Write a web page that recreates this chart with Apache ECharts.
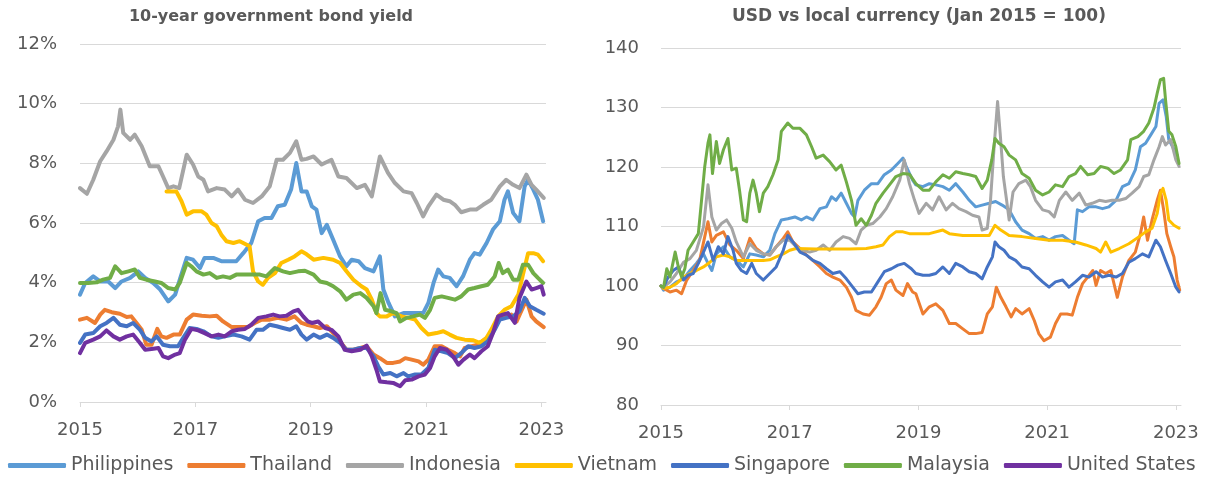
<!DOCTYPE html>
<html><head><meta charset="utf-8">
<script src="https://cdn.jsdelivr.net/npm/echarts@6/dist/echarts.min.js"></script>
<style>html,body{margin:0;padding:0;background:#fff}#c{width:1205px;height:480px}</style>
</head><body><div id="c"></div>
<script>
// ---- names, colours, ticks ----
const seriesNames = ['Philippines','Thailand','Indonesia','Vietnam','Singapore','Malaysia','United States'];
const seriesColors = ['#5B9BD5','#ED7D31','#A5A5A5','#FFC000','#4472C4','#70AD47','#7030A0'];
const yearTicks = [2015, 2017, 2019, 2021, 2023];
const titleLeft = '10-year government bond yield';
const titleRight = 'USD vs local currency (Jan 2015 = 100)';

// ---- 10-year government bond yield (%) : [decimal year, value] ----
const yldPhilippines = [[2015.00,3.60],[2015.09,3.99],[2015.23,4.21],[2015.35,4.04],[2015.49,4.04],[2015.61,3.82],[2015.72,4.04],[2015.87,4.16],[2016.01,4.38],[2016.13,4.16],[2016.27,3.99],[2016.39,3.77],[2016.53,3.37],[2016.65,3.60],[2016.73,4.10],[2016.85,4.83],[2016.96,4.77],[2017.08,4.49],[2017.16,4.83],[2017.31,4.83],[2017.45,4.72],[2017.60,4.72],[2017.71,4.72],[2017.83,4.99],[2017.97,5.33],[2018.09,6.06],[2018.20,6.17],[2018.32,6.17],[2018.43,6.56],[2018.55,6.61],[2018.66,7.12],[2018.75,8.01],[2018.84,7.06],[2018.93,7.06],[2019.02,6.56],[2019.10,6.45],[2019.19,5.66],[2019.28,5.94],[2019.39,5.44],[2019.51,4.88],[2019.62,4.55],[2019.71,4.77],[2019.83,4.72],[2019.94,4.49],[2020.09,4.38],[2020.20,4.88],[2020.26,3.77],[2020.35,3.32],[2020.46,2.87],[2020.61,2.98],[2020.78,2.98],[2020.95,2.98],[2021.04,3.32],[2021.13,3.99],[2021.21,4.44],[2021.30,4.21],[2021.41,4.16],[2021.53,3.88],[2021.64,4.21],[2021.76,4.77],[2021.84,4.99],[2021.93,4.94],[2022.05,5.33],[2022.16,5.78],[2022.28,6.06],[2022.36,6.78],[2022.42,7.06],[2022.51,6.34],[2022.62,6.06],[2022.71,7.23],[2022.77,7.45],[2022.86,7.12],[2022.94,6.78],[2023.03,6.06]];
const yldThailand = [[2015.00,2.76],[2015.12,2.82],[2015.26,2.65],[2015.35,2.93],[2015.43,3.09],[2015.55,3.01],[2015.69,2.96],[2015.81,2.85],[2015.89,2.87],[2015.98,2.65],[2016.07,2.42],[2016.15,1.92],[2016.24,1.92],[2016.34,2.45],[2016.41,2.20],[2016.50,2.15],[2016.62,2.26],[2016.73,2.26],[2016.85,2.76],[2016.96,2.93],[2017.11,2.89],[2017.25,2.87],[2017.37,2.89],[2017.48,2.70],[2017.63,2.51],[2017.77,2.51],[2017.91,2.51],[2018.03,2.65],[2018.15,2.76],[2018.29,2.76],[2018.43,2.82],[2018.58,2.76],[2018.72,2.87],[2018.84,2.65],[2018.93,2.59],[2019.05,2.54],[2019.16,2.48],[2019.28,2.54],[2019.39,2.31],[2019.51,2.03],[2019.62,1.75],[2019.74,1.75],[2019.86,1.81],[2019.97,1.87],[2020.09,1.59],[2020.20,1.47],[2020.32,1.31],[2020.43,1.31],[2020.55,1.36],[2020.64,1.47],[2020.75,1.42],[2020.87,1.36],[2020.95,1.25],[2021.04,1.42],[2021.15,1.87],[2021.27,1.87],[2021.38,1.75],[2021.50,1.64],[2021.59,1.53],[2021.67,1.81],[2021.79,1.87],[2021.90,1.92],[2022.02,2.09],[2022.13,2.31],[2022.25,2.76],[2022.36,2.87],[2022.48,2.93],[2022.57,2.70],[2022.66,3.09],[2022.74,3.43],[2022.83,2.87],[2022.91,2.70],[2023.04,2.51]];
const yldIndonesia = [[2015.00,7.17],[2015.12,6.98],[2015.23,7.45],[2015.35,8.07],[2015.46,8.40],[2015.58,8.79],[2015.66,9.24],[2015.70,9.80],[2015.75,9.02],[2015.87,8.79],[2015.95,8.96],[2016.07,8.57],[2016.21,7.90],[2016.36,7.90],[2016.44,7.56],[2016.53,7.17],[2016.62,7.23],[2016.72,7.17],[2016.85,8.29],[2016.96,7.96],[2017.05,7.56],[2017.14,7.45],[2017.22,7.06],[2017.37,7.17],[2017.51,7.12],[2017.63,6.89],[2017.74,7.12],[2017.86,6.78],[2018.00,6.67],[2018.15,6.89],[2018.29,7.23],[2018.41,8.12],[2018.52,8.12],[2018.64,8.35],[2018.75,8.74],[2018.84,8.12],[2018.93,8.15],[2019.05,8.23],[2019.19,7.96],[2019.36,8.12],[2019.48,7.56],[2019.62,7.51],[2019.80,7.17],[2019.94,7.28],[2020.06,6.89],[2020.20,8.23],[2020.34,7.68],[2020.46,7.34],[2020.61,7.06],[2020.75,7.00],[2020.84,6.67],[2020.95,6.22],[2021.04,6.56],[2021.18,6.95],[2021.30,6.78],[2021.41,6.73],[2021.50,6.61],[2021.61,6.36],[2021.76,6.45],[2021.87,6.45],[2021.99,6.61],[2022.13,6.78],[2022.28,7.23],[2022.39,7.45],[2022.51,7.28],[2022.62,7.17],[2022.74,7.62],[2022.83,7.28],[2022.91,7.12],[2023.04,6.84]];
const yldVietnam = [[2016.50,7.06],[2016.67,7.06],[2016.76,6.73],[2016.85,6.28],[2016.96,6.39],[2017.11,6.39],[2017.19,6.28],[2017.28,6.00],[2017.37,5.89],[2017.45,5.61],[2017.54,5.39],[2017.66,5.33],[2017.77,5.39],[2017.89,5.27],[2017.94,5.22],[2018.00,4.38],[2018.09,4.04],[2018.17,3.93],[2018.26,4.16],[2018.38,4.32],[2018.49,4.66],[2018.61,4.77],[2018.72,4.88],[2018.84,5.05],[2018.93,4.95],[2019.05,4.77],[2019.22,4.83],[2019.39,4.77],[2019.51,4.66],[2019.62,4.38],[2019.74,4.10],[2019.88,3.88],[2019.97,3.77],[2020.06,3.43],[2020.14,2.98],[2020.20,2.87],[2020.32,2.87],[2020.43,2.98],[2020.58,2.87],[2020.69,2.82],[2020.81,2.76],[2020.92,2.48],[2021.04,2.26],[2021.18,2.31],[2021.30,2.37],[2021.41,2.26],[2021.53,2.15],[2021.67,2.09],[2021.82,2.07],[2021.93,1.98],[2022.05,2.15],[2022.13,2.42],[2022.25,2.87],[2022.36,3.09],[2022.48,3.21],[2022.60,3.60],[2022.68,4.27],[2022.77,4.99],[2022.86,4.99],[2022.94,4.94],[2023.03,4.72]];
const yldSingapore = [[2015.00,1.98],[2015.09,2.26],[2015.23,2.31],[2015.35,2.54],[2015.46,2.65],[2015.58,2.82],[2015.69,2.59],[2015.81,2.54],[2015.92,2.65],[2016.04,2.42],[2016.13,2.15],[2016.24,2.03],[2016.33,2.20],[2016.44,1.92],[2016.56,1.87],[2016.70,1.87],[2016.79,2.15],[2016.90,2.48],[2017.02,2.45],[2017.14,2.37],[2017.28,2.20],[2017.40,2.15],[2017.51,2.20],[2017.66,2.26],[2017.80,2.20],[2017.94,2.09],[2018.06,2.42],[2018.17,2.42],[2018.29,2.59],[2018.41,2.54],[2018.52,2.48],[2018.64,2.42],[2018.75,2.54],[2018.84,2.26],[2018.93,2.09],[2019.05,2.26],[2019.16,2.15],[2019.28,2.26],[2019.39,2.15],[2019.51,1.98],[2019.62,1.75],[2019.74,1.75],[2019.86,1.81],[2019.97,1.81],[2020.09,1.53],[2020.17,1.20],[2020.26,0.92],[2020.38,0.97],[2020.49,0.86],[2020.61,0.97],[2020.69,0.86],[2020.81,0.92],[2020.92,0.92],[2021.04,1.14],[2021.15,1.75],[2021.27,1.70],[2021.38,1.64],[2021.50,1.47],[2021.61,1.64],[2021.73,1.87],[2021.84,1.81],[2021.96,1.87],[2022.07,2.03],[2022.19,2.42],[2022.28,2.76],[2022.39,2.82],[2022.51,2.87],[2022.62,3.04],[2022.71,3.49],[2022.80,3.21],[2022.91,3.09],[2023.04,2.96]];
const yldMalaysia = [[2015.00,3.99],[2015.14,3.99],[2015.29,4.01],[2015.40,4.10],[2015.52,4.16],[2015.61,4.55],[2015.72,4.32],[2015.84,4.38],[2015.95,4.44],[2016.04,4.16],[2016.15,4.10],[2016.30,4.04],[2016.41,3.99],[2016.53,3.82],[2016.65,3.77],[2016.73,3.99],[2016.85,4.66],[2016.93,4.55],[2017.02,4.38],[2017.14,4.27],[2017.25,4.32],[2017.37,4.16],[2017.48,4.21],[2017.60,4.16],[2017.71,4.27],[2017.83,4.27],[2017.97,4.27],[2018.12,4.27],[2018.23,4.21],[2018.38,4.49],[2018.52,4.38],[2018.64,4.32],[2018.78,4.38],[2018.90,4.40],[2019.05,4.27],[2019.16,4.04],[2019.28,3.99],[2019.39,3.88],[2019.51,3.71],[2019.62,3.43],[2019.74,3.60],[2019.86,3.65],[2019.97,3.49],[2020.09,3.21],[2020.14,2.98],[2020.21,3.65],[2020.29,3.09],[2020.40,3.04],[2020.49,2.98],[2020.55,2.70],[2020.66,2.82],[2020.78,2.87],[2020.89,2.93],[2020.98,2.82],[2021.07,3.09],[2021.15,3.49],[2021.27,3.54],[2021.38,3.49],[2021.50,3.43],[2021.61,3.54],[2021.73,3.77],[2021.84,3.82],[2021.96,3.88],[2022.07,3.93],[2022.19,4.21],[2022.26,4.66],[2022.33,4.32],[2022.42,4.44],[2022.51,4.10],[2022.60,4.10],[2022.68,4.60],[2022.77,4.60],[2022.86,4.32],[2022.94,4.16],[2023.03,3.99]];
const yldUnitedStates = [[2015.00,1.64],[2015.09,1.98],[2015.23,2.09],[2015.35,2.20],[2015.46,2.40],[2015.58,2.20],[2015.69,2.09],[2015.81,2.20],[2015.92,2.26],[2016.04,1.98],[2016.13,1.75],[2016.24,1.78],[2016.36,1.81],[2016.44,1.53],[2016.53,1.47],[2016.65,1.59],[2016.73,1.64],[2016.82,2.09],[2016.93,2.45],[2017.05,2.40],[2017.16,2.31],[2017.28,2.20],[2017.40,2.26],[2017.51,2.20],[2017.63,2.37],[2017.74,2.42],[2017.86,2.45],[2017.97,2.59],[2018.09,2.82],[2018.23,2.87],[2018.35,2.93],[2018.46,2.87],[2018.58,2.89],[2018.70,3.04],[2018.78,3.09],[2018.87,2.87],[2018.95,2.70],[2019.02,2.65],[2019.13,2.70],[2019.25,2.48],[2019.36,2.42],[2019.48,2.20],[2019.59,1.75],[2019.71,1.70],[2019.86,1.75],[2019.97,1.89],[2020.06,1.53],[2020.14,1.08],[2020.20,0.69],[2020.32,0.66],[2020.43,0.64],[2020.55,0.53],[2020.64,0.73],[2020.75,0.75],[2020.87,0.86],[2020.98,0.92],[2021.07,1.14],[2021.15,1.53],[2021.24,1.81],[2021.36,1.75],[2021.47,1.53],[2021.56,1.25],[2021.65,1.42],[2021.76,1.59],[2021.84,1.47],[2021.96,1.70],[2022.07,1.87],[2022.16,2.31],[2022.25,2.87],[2022.33,2.93],[2022.42,2.98],[2022.54,2.65],[2022.62,3.49],[2022.74,4.04],[2022.83,3.77],[2022.91,3.82],[2023.00,3.88],[2023.04,3.60]];

// ---- USD vs local currency (Jan 2015 = 100) : [decimal year, index] ----
const fxPhilippines = [[2015.00,100.0],[2015.04,99.3],[2015.14,99.8],[2015.24,100.7],[2015.35,101.2],[2015.45,102.6],[2015.55,103.8],[2015.66,105.4],[2015.73,103.8],[2015.79,102.6],[2015.86,105.4],[2015.97,106.6],[2016.07,104.9],[2016.17,104.3],[2016.28,103.2],[2016.38,105.4],[2016.48,105.2],[2016.59,104.9],[2016.69,106.0],[2016.77,108.8],[2016.87,111.1],[2016.97,111.3],[2017.08,111.6],[2017.18,111.1],[2017.26,111.6],[2017.36,111.1],[2017.47,113.0],[2017.57,113.3],[2017.65,115.0],[2017.72,114.4],[2017.80,115.6],[2017.88,113.9],[2017.96,112.2],[2018.01,111.6],[2018.06,114.4],[2018.16,116.1],[2018.27,117.2],[2018.37,117.2],[2018.47,118.7],[2018.58,119.5],[2018.68,120.6],[2018.76,121.5],[2018.81,120.1],[2018.91,117.8],[2018.96,117.0],[2019.07,116.7],[2019.17,117.2],[2019.27,117.0],[2019.38,116.7],[2019.48,116.1],[2019.58,117.2],[2019.69,115.8],[2019.79,114.4],[2019.89,113.3],[2019.99,113.6],[2020.10,113.9],[2020.20,114.2],[2020.30,113.6],[2020.41,112.8],[2020.51,110.8],[2020.61,109.4],[2020.72,108.8],[2020.82,108.0],[2020.93,108.3],[2021.03,107.7],[2021.13,108.3],[2021.24,108.5],[2021.34,107.7],[2021.42,107.1],[2021.47,112.8],[2021.55,112.5],[2021.65,113.3],[2021.76,113.3],[2021.86,113.0],[2021.96,113.3],[2022.07,114.4],[2022.17,116.7],[2022.27,117.2],[2022.37,119.5],[2022.45,123.4],[2022.53,124.0],[2022.61,125.4],[2022.69,126.8],[2022.74,130.7],[2022.80,131.3],[2022.85,128.5],[2022.89,124.6],[2022.95,123.4],[2023.02,122.0]];
const fxThailand = [[2015.00,100.0],[2015.04,99.6],[2015.14,99.0],[2015.24,99.3],[2015.32,98.7],[2015.40,101.0],[2015.50,102.6],[2015.60,104.3],[2015.68,108.3],[2015.73,110.8],[2015.79,107.4],[2015.86,108.5],[2015.97,109.1],[2016.07,106.9],[2016.17,106.0],[2016.28,104.6],[2016.38,108.0],[2016.48,106.3],[2016.59,105.4],[2016.69,105.2],[2016.79,106.6],[2016.90,108.0],[2016.97,109.1],[2017.05,107.4],[2017.16,106.3],[2017.26,105.2],[2017.36,104.3],[2017.47,103.2],[2017.57,102.1],[2017.67,101.5],[2017.78,101.0],[2017.88,99.8],[2017.96,98.1],[2018.03,95.9],[2018.14,95.3],[2018.24,95.1],[2018.34,96.5],[2018.42,98.1],[2018.50,100.4],[2018.58,101.0],[2018.65,99.3],[2018.76,98.4],[2018.83,100.4],[2018.91,99.0],[2018.96,98.7],[2019.07,95.3],[2019.17,96.5],[2019.27,97.0],[2019.38,95.9],[2019.48,93.7],[2019.58,93.7],[2019.69,92.8],[2019.79,92.0],[2019.89,92.0],[2019.99,92.2],[2020.07,95.3],[2020.15,96.5],[2020.21,99.8],[2020.28,98.1],[2020.36,96.5],[2020.44,94.8],[2020.51,96.2],[2020.61,95.3],[2020.72,96.2],[2020.80,94.2],[2020.87,92.0],[2020.95,90.8],[2021.05,91.4],[2021.13,93.7],[2021.21,95.3],[2021.31,95.3],[2021.39,95.1],[2021.47,98.1],[2021.55,100.4],[2021.63,101.5],[2021.71,102.6],[2021.76,100.1],[2021.83,102.6],[2021.91,102.1],[2021.99,102.6],[2022.09,98.1],[2022.17,101.5],[2022.27,104.3],[2022.37,105.7],[2022.45,108.8],[2022.50,111.6],[2022.56,107.7],[2022.63,111.1],[2022.71,114.4],[2022.76,116.1],[2022.81,112.8],[2022.86,108.8],[2022.92,106.6],[2022.97,104.9],[2023.02,101.0],[2023.06,99.3]];
const fxIndonesia = [[2015.00,100.0],[2015.04,99.8],[2015.14,100.7],[2015.24,102.1],[2015.35,104.0],[2015.45,104.6],[2015.55,106.0],[2015.66,109.9],[2015.73,117.0],[2015.79,111.6],[2015.86,109.4],[2015.94,110.5],[2016.02,111.1],[2016.10,109.7],[2016.17,107.4],[2016.28,104.9],[2016.38,107.1],[2016.48,106.0],[2016.59,105.4],[2016.69,105.2],[2016.79,106.6],[2016.90,107.7],[2017.00,107.7],[2017.10,106.6],[2017.21,106.0],[2017.31,105.7],[2017.41,106.0],[2017.52,106.9],[2017.62,106.0],[2017.72,107.4],[2017.83,108.3],[2017.93,108.0],[2018.03,107.1],[2018.11,109.4],[2018.19,110.2],[2018.29,110.5],[2018.40,111.6],[2018.50,113.0],[2018.60,115.0],[2018.71,117.8],[2018.78,121.2],[2018.86,117.2],[2018.94,114.4],[2019.01,112.2],[2019.12,113.9],[2019.22,112.8],[2019.32,115.0],[2019.43,112.8],[2019.53,113.9],[2019.63,113.0],[2019.74,112.5],[2019.84,111.9],[2019.94,111.6],[2019.99,109.4],[2020.07,109.7],[2020.12,114.4],[2020.18,124.0],[2020.23,131.0],[2020.27,125.7],[2020.32,118.4],[2020.37,114.4],[2020.41,111.1],[2020.47,115.8],[2020.56,117.2],[2020.67,117.8],[2020.74,116.7],[2020.82,114.4],[2020.93,112.8],[2021.03,112.5],[2021.11,111.6],[2021.19,114.4],[2021.29,115.8],[2021.39,114.4],[2021.50,115.6],[2021.60,113.6],[2021.70,113.9],[2021.81,114.4],[2021.91,114.2],[2022.01,114.4],[2022.12,114.4],[2022.22,114.7],[2022.32,115.6],[2022.43,116.7],[2022.50,118.4],[2022.58,118.7],[2022.66,121.2],[2022.74,123.4],[2022.79,125.1],[2022.84,123.7],[2022.92,124.6],[2023.00,121.2],[2023.05,120.1]];
const fxVietnam = [[2015.00,100.0],[2015.04,99.6],[2015.14,99.8],[2015.24,100.4],[2015.35,101.5],[2015.45,102.1],[2015.55,102.6],[2015.66,103.2],[2015.76,104.0],[2015.86,104.9],[2015.97,105.2],[2016.07,104.9],[2016.17,104.3],[2016.38,104.3],[2016.59,104.3],[2016.69,104.4],[2016.79,104.9],[2016.90,105.4],[2017.00,106.0],[2017.10,106.3],[2017.41,106.2],[2017.93,106.2],[2018.19,106.3],[2018.34,106.6],[2018.45,106.9],[2018.55,108.3],[2018.65,109.1],[2018.76,109.1],[2018.86,108.8],[2019.17,108.8],[2019.38,109.4],[2019.48,108.8],[2019.69,108.5],[2020.10,108.5],[2020.19,110.2],[2020.28,109.4],[2020.41,108.5],[2020.61,108.3],[2020.82,108.0],[2021.03,107.7],[2021.24,107.7],[2021.44,107.4],[2021.60,106.9],[2021.76,106.3],[2021.83,105.7],[2021.91,107.4],[2021.99,105.7],[2022.12,106.3],[2022.27,107.1],[2022.43,108.3],[2022.53,109.1],[2022.63,109.7],[2022.71,112.2],[2022.76,115.6],[2022.80,116.4],[2022.85,114.4],[2022.89,111.1],[2022.97,110.2],[2023.05,109.7]];
const fxSingapore = [[2015.00,100.0],[2015.04,99.8],[2015.11,101.5],[2015.19,102.6],[2015.27,103.2],[2015.35,101.0],[2015.42,101.8],[2015.50,102.1],[2015.58,103.8],[2015.66,105.7],[2015.73,107.4],[2015.81,104.3],[2015.89,106.6],[2015.97,105.4],[2016.04,108.3],[2016.12,106.0],[2016.17,103.8],[2016.25,102.6],[2016.33,102.1],[2016.41,103.8],[2016.48,102.1],[2016.59,101.0],[2016.69,102.1],[2016.79,103.2],[2016.90,106.0],[2016.97,108.5],[2017.05,107.4],[2017.16,105.7],[2017.26,105.2],[2017.36,104.3],[2017.47,103.8],[2017.57,102.9],[2017.67,102.1],[2017.78,102.4],[2017.88,101.2],[2017.98,99.8],[2018.06,98.7],[2018.16,99.0],[2018.27,99.0],[2018.37,100.7],[2018.47,102.4],[2018.58,102.9],[2018.68,103.5],[2018.78,103.8],[2018.89,102.9],[2018.96,102.1],[2019.07,101.8],[2019.17,101.8],[2019.27,102.1],[2019.38,103.2],[2019.48,102.1],[2019.58,103.8],[2019.69,103.2],[2019.79,102.4],[2019.89,102.1],[2019.99,101.2],[2020.07,103.2],[2020.15,104.9],[2020.19,107.4],[2020.25,106.6],[2020.33,106.0],[2020.41,104.9],[2020.51,104.3],[2020.61,103.2],[2020.72,102.9],[2020.82,101.8],[2020.93,100.7],[2021.03,99.8],[2021.13,100.7],[2021.24,101.0],[2021.34,99.8],[2021.44,100.7],[2021.55,101.8],[2021.65,101.5],[2021.76,102.4],[2021.86,101.5],[2021.96,101.8],[2022.07,101.5],[2022.17,102.1],[2022.27,104.0],[2022.37,104.6],[2022.48,105.4],[2022.58,104.9],[2022.69,107.7],[2022.76,106.6],[2022.84,104.3],[2022.92,102.1],[2023.00,99.8],[2023.05,99.0]];
const fxMalaysia = [[2015.00,100.0],[2015.04,99.8],[2015.09,102.9],[2015.14,101.5],[2015.22,105.7],[2015.27,103.2],[2015.32,101.5],[2015.37,102.9],[2015.42,106.0],[2015.50,107.4],[2015.58,108.8],[2015.63,114.4],[2015.68,120.1],[2015.73,124.0],[2015.76,125.4],[2015.80,118.9],[2015.86,124.3],[2015.91,120.6],[2015.97,122.9],[2016.04,124.8],[2016.10,119.5],[2016.17,119.8],[2016.22,116.1],[2016.28,111.1],[2016.33,110.8],[2016.38,115.6],[2016.43,117.8],[2016.48,115.6],[2016.53,112.5],[2016.59,115.6],[2016.66,116.7],[2016.74,118.7],[2016.82,121.2],[2016.87,126.0],[2016.97,127.4],[2017.05,126.5],[2017.16,126.5],[2017.26,125.4],[2017.34,123.4],[2017.41,121.5],[2017.52,122.0],[2017.62,120.9],[2017.72,119.5],[2017.80,120.3],[2017.88,117.5],[2017.96,114.4],[2018.03,110.2],[2018.11,111.3],[2018.19,110.2],[2018.27,111.9],[2018.34,113.9],[2018.45,115.6],[2018.55,117.0],[2018.65,118.4],[2018.76,118.9],[2018.86,118.8],[2018.96,117.2],[2019.07,116.1],[2019.17,116.1],[2019.27,117.5],[2019.38,118.7],[2019.48,118.1],[2019.58,119.2],[2019.69,118.9],[2019.79,118.7],[2019.89,118.4],[2019.99,116.4],[2020.07,117.8],[2020.14,121.2],[2020.19,124.8],[2020.25,124.0],[2020.33,123.4],[2020.41,122.0],[2020.51,121.2],[2020.61,118.9],[2020.72,118.1],[2020.82,116.1],[2020.93,115.3],[2021.03,115.8],[2021.13,117.0],[2021.24,116.7],[2021.34,118.4],[2021.44,118.9],[2021.52,120.1],[2021.63,118.7],[2021.73,118.9],[2021.83,120.1],[2021.94,119.8],[2022.04,118.9],[2022.14,119.5],[2022.25,121.2],[2022.30,124.6],[2022.41,125.1],[2022.50,126.0],[2022.58,127.4],[2022.66,129.9],[2022.71,132.4],[2022.76,134.7],[2022.81,134.9],[2022.84,131.3],[2022.89,126.0],[2022.94,125.4],[2023.00,123.4],[2023.05,120.6]];

const yieldSeries = [yldPhilippines, yldThailand, yldIndonesia, yldVietnam, yldSingapore, yldMalaysia, yldUnitedStates];
const fxSeries = [fxPhilippines, fxThailand, fxIndonesia, fxVietnam, fxSingapore, fxMalaysia];

// ---- chart ----
const FONT = '"DejaVu Sans", sans-serif';
const TXT = '#595959';
const GRID = '#D9D9D9';
const chart = echarts.init(document.getElementById('c'));

function xAxisFor(i) {
  return {
    type: 'value', gridIndex: i, min: 2015, max: 2023.08, interval: 2,
    axisLine: { show: true, lineStyle: { color: GRID, width: 1 } },
    axisTick: { show: true, length: 5, lineStyle: { color: GRID }, customValues: yearTicks },
    axisLabel: {
      customValues: yearTicks, fontSize: 18, fontFamily: FONT, color: TXT, margin: 19,
      formatter: v => (Math.abs(v - Math.round(v)) < 1e-6 ? String(Math.round(v)) : '')
    },
    splitLine: { show: false }
  };
}
function yAxisFor(i, min, max, step, fmt, margin) {
  return {
    type: 'value', gridIndex: i, min: min, max: max, interval: step,
    axisLine: { show: false }, axisTick: { show: false },
    axisLabel: { fontSize: 18, fontFamily: FONT, color: TXT, margin: margin, formatter: fmt },
    splitLine: { show: true, lineStyle: { color: GRID, width: 1 } }
  };
}
function lineSeries(name, color, data, axis, width) {
  return {
    type: 'line', name: name, data: data, xAxisIndex: axis, yAxisIndex: axis,
    showSymbol: false, symbol: 'none', smooth: false,
    lineStyle: { color: color, width: width, cap: 'round', join: 'round' },
    itemStyle: { color: color }, emphasis: { disabled: true }
  };
}

const series = [];
yieldSeries.forEach((d, i) => series.push(lineSeries(seriesNames[i], seriesColors[i], d, 0, 4)));
fxSeries.forEach((d, i) => series.push(lineSeries(seriesNames[i], seriesColors[i], d, 1, 3)));

chart.setOption({
  animation: false,
  backgroundColor: '#ffffff',
  textStyle: { fontFamily: FONT },
  graphic: [
    { type: 'text', x: 271, y: 17, style: { text: titleLeft, font: 'bold 16px ' + FONT, fill: TXT, align: 'center', verticalAlign: 'middle', textAlign: 'center', textVerticalAlign: 'middle' } },
    { type: 'text', x: 919, y: 17, style: { text: titleRight, font: 'bold 17px ' + FONT, fill: TXT, align: 'center', verticalAlign: 'middle', textAlign: 'center', textVerticalAlign: 'middle' } }
  ],
  grid: [
    { left: 80, top: 44, width: 466, height: 358, containLabel: false },
    { left: 661, top: 48, width: 520, height: 357, containLabel: false }
  ],
  xAxis: [xAxisFor(0), xAxisFor(1)],
  yAxis: [
    yAxisFor(0, 0, 12, 2, '{value}%', 23),
    yAxisFor(1, 80, 140, 10, '{value}', 22)
  ],
  legend: {
    data: seriesNames, left: 8, top: 456, padding: 0, icon: 'roundRect',
    itemWidth: 58, itemHeight: 5, itemGap: 14,
    textStyle: { fontSize: 19, fontFamily: FONT, color: TXT },
    selectedMode: false
  },
  series: series
});
</script>
</body></html>
